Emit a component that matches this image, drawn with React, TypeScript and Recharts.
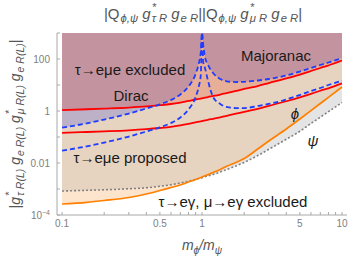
import React from 'react';
import { ComposedChart, Area, Line, XAxis, YAxis } from 'recharts';

// m_phi / m_psi sample points
const massRatio = [0.1, 0.15, 0.2, 0.3, 0.4, 0.5, 0.6, 0.7, 0.8, 0.9, 0.95, 0.98, 1, 1.02, 1.05, 1.1, 1.2, 1.35, 1.5, 1.75, 2, 2.5, 3, 4, 5, 6, 7, 8, 10];

// tau -> e mu e, Dirac (red solid)
const diracNow = [1.09, 1.17, 1.24, 1.36, 1.5, 1.67, 1.86, 2.12, 2.43, 2.77, 2.92, 3.0, 3.08, 3.15, 3.25, 3.45, 3.78, 4.31, 4.92, 5.88, 7.02, 9.15, 11.9, 17.8, 25.3, 34.5, 45.1, 56.2, 87.5];
const diracProposed = [0.145, 0.156, 0.165, 0.181, 0.2, 0.222, 0.247, 0.282, 0.323, 0.368, 0.389, 0.4, 0.41, 0.419, 0.432, 0.459, 0.503, 0.573, 0.654, 0.79, 0.934, 1.22, 1.58, 2.37, 3.37, 4.59, 6.0, 7.47, 11.6];

// tau -> e mu e, Majorana (blue dashed), diverges at m_phi = m_psi
const majoranaNow = [0.228, 0.336, 0.467, 0.794, 1.25, 1.81, 2.65, 4.31, 8.75, 26.5, 70, 186, 1000, 346, 119, 61.4, 28.9, 17.0, 13.9, 13.0, 13.3, 14.9, 17.0, 23.2, 33.0, 45.1, 58.8, 73.3, 109];
const majoranaProposed = [0.0297, 0.0439, 0.061, 0.1036, 0.163, 0.236, 0.345, 0.562, 1.14, 3.45, 9.15, 24.2, 1000, 76.7, 45.1, 15.6, 3.45, 1.86, 1.43, 1.3, 1.3, 1.56, 1.86, 2.77, 4.13, 5.88, 7.67, 10, 14.6];

// radiative decays (orange = phi, grey dotted = psi)
const phiBound = [2.65e-4, 3.08e-4, 3.61e-4, 4.71e-4, 6.43e-4, 8.75e-4, 1.14e-3, 1.43e-3, 1.86e-3, 2.32e-3, 2.6e-3, 2.77e-3, 2.9e-3, 3.03e-3, 3.22e-3, 3.55e-3, 4.31e-3, 5.62e-3, 7.53e-3, 1.05e-2, 1.49e-2, 3.45e-2, 7.02e-2, 0.203, 0.492, 1.03, 1.94, 3.36, 8.38];
const psiBound = [8.37e-4, 8.9e-4, 9.31e-4, 1.02e-3, 1.11e-3, 1.27e-3, 1.46e-3, 1.7e-3, 1.98e-3, 2.32e-3, 2.51e-3, 2.65e-3, 2.72e-3, 2.82e-3, 2.94e-3, 3.16e-3, 3.61e-3, 4.51e-3, 5.62e-3, 7.67e-3, 1.05e-2, 1.93e-2, 3.37e-2, 8.16e-2, 0.166, 0.331, 0.578, 0.94, 2.12];

const xTicks = [0.1, 0.2, 0.3, 0.4, 0.5, 0.6, 0.7, 0.8, 0.9, 1, 2, 3, 4, 5, 6, 7, 8, 9, 10];
const xTickLabels = [0.1, 0.5, 1, 5, 10];
const yTicks = [1e-4, 1e-3, 1e-2, 0.1, 1, 10, 100, 1000];

const TOP = 1000;
const font = "'Liberation Sans', Arial, Helvetica, sans-serif";
const frame = '#a8a8a8';

const rows = massRatio.map((x, i) => {
  const dn = diracNow[i];
  const mn = majoranaNow[i];
  const phi = phiBound[i];
  const psi = psiBound[i];
  return {
    x,
    diracNow: dn,
    diracProposed: diracProposed[i],
    majoranaNow: mn,
    majoranaProposed: majoranaProposed[i],
    phi,
    psi,
    phiBand: [phi, TOP],
    psiBand: [psi, TOP],
    bothBand: [Math.max(phi, psi), TOP],
    majBand: [Math.min(mn, TOP), TOP],
    dirBand: [Math.min(dn, TOP), TOP],
    exclBand: [Math.min(Math.max(dn, mn), TOP), TOP],
  };
});

const YTick = (props: any) => {
  const { x, y, payload } = props;
  const v = payload.value;
  const common = { fill: '#808080', fontSize: 10, fontFamily: font, textAnchor: 'end' as const };
  if (v === 1e-4) {
    return (
      <text x={x} y={y} dy="0.35em" {...common}>
        <tspan>10</tspan>
        <tspan dy={-4} fontSize={7}>−4</tspan>
      </text>
    );
  }
  const labels: Record<string, string> = { '0.01': '0.01', '1': '1', '100': '100' };
  const s = labels[String(v)];
  if (!s) return null;
  return (
    <text x={x} y={y} dy="0.35em" {...common}>
      {s}
    </text>
  );
};

// g with stacked superscript / subscript
const Gs = ({ base = 'g', sup, sub, italic = true }: { base?: string; sup?: string; sub: string; italic?: boolean }) => (
  <span>
    <span style={{ fontStyle: italic ? 'italic' : 'normal' }}>{base}</span>
    <span style={{ display: 'inline-block', verticalAlign: '-0.3em', fontSize: '0.75em', lineHeight: 1, marginLeft: 1 }}>
      <span style={{ display: 'block', fontStyle: 'italic' }}>{sup || '\u00a0'}</span>
      <span style={{ display: 'block', fontStyle: 'italic' }}>{sub}</span>
    </span>
  </span>
);

const Note = ({ cx, cy, size = 15, italic = false, children }: any) => (
  <div
    style={{
      position: 'absolute',
      left: cx,
      top: cy,
      transform: 'translate(-50%, -50%)',
      whiteSpace: 'nowrap',
      fontFamily: font,
      fontSize: size,
      fontStyle: italic ? 'italic' : 'normal',
      color: '#1a1a1a',
      lineHeight: 1,
      pointerEvents: 'none',
    }}
  >
    {children}
  </div>
);

export default function App() {
  return (
    <div style={{ position: 'absolute', left: 0, top: 0, width: 354, height: 262, background: '#fff' }}>
      <ComposedChart width={354} height={262} data={rows} margin={{ top: 33, right: 7, bottom: 17, left: 0 }}>
        <XAxis
          dataKey="x"
          type="number"
          scale="log"
          domain={[0.092, 10.86]}
          allowDataOverflow
          ticks={xTicks}
          interval={0}
          tickFormatter={(v: number) => (xTickLabels.includes(v) ? String(v) : '')}
          tickSize={-3}
          tickMargin={8}
          height={30}
          axisLine={{ stroke: frame }}
          tickLine={{ stroke: frame }}
          tick={{ fill: '#808080', fontSize: 10, fontFamily: font }}
        />
        <XAxis
          xAxisId="top"
          orientation="top"
          type="number"
          scale="log"
          domain={[0.092, 10.86]}
          allowDataOverflow
          ticks={xTicks}
          interval={0}
          tickFormatter={() => ''}
          tickSize={-3}
          height={0}
          axisLine={{ stroke: frame }}
          tickLine={{ stroke: frame }}
        />
        <YAxis
          type="number"
          scale="log"
          domain={[1e-4, 1000]}
          allowDataOverflow
          ticks={yTicks}
          interval={0}
          tick={<YTick />}
          tickSize={-3}
          tickMargin={10}
          width={57}
          axisLine={{ stroke: frame }}
          tickLine={{ stroke: frame }}
        />
        <YAxis
          yAxisId="right"
          orientation="right"
          type="number"
          scale="log"
          domain={[1e-4, 1000]}
          allowDataOverflow
          ticks={yTicks}
          interval={0}
          tickFormatter={() => ''}
          tickSize={-3}
          width={0}
          axisLine={{ stroke: frame }}
          tickLine={{ stroke: frame }}
        />

        <Area dataKey="phiBand" type="monotone" fill="#fde4cc" fillOpacity={1} stroke="none" isAnimationActive={false} />
        <Area dataKey="psiBand" type="monotone" fill="#e4e4e4" fillOpacity={1} stroke="none" isAnimationActive={false} />
        <Area dataKey="bothBand" type="monotone" fill="#e6d3c0" fillOpacity={1} stroke="none" isAnimationActive={false} />
        <Area dataKey="majBand" type="monotone" fill="#bdb1c8" fillOpacity={1} stroke="none" isAnimationActive={false} />
        <Area dataKey="dirBand" type="monotone" fill="#e8af98" fillOpacity={1} stroke="none" isAnimationActive={false} />
        <Area dataKey="exclBand" type="monotone" fill="#c493a0" fillOpacity={1} stroke="none" isAnimationActive={false} />

        <Line dataKey="psi" type="monotone" stroke="#808080" strokeWidth={1.6} strokeDasharray="2 2" dot={false} isAnimationActive={false} />
        <Line dataKey="phi" type="monotone" stroke="#ff8000" strokeWidth={1.7} dot={false} isAnimationActive={false} />
        <Line dataKey="diracNow" type="monotone" stroke="#ff0000" strokeWidth={1.8} dot={false} isAnimationActive={false} />
        <Line dataKey="diracProposed" type="monotone" stroke="#ff0000" strokeWidth={1.8} dot={false} isAnimationActive={false} />
        <Line dataKey="majoranaNow" type="monotone" stroke="#1f3cff" strokeWidth={1.8} strokeDasharray="5 3" dot={false} isAnimationActive={false} />
        <Line dataKey="majoranaProposed" type="monotone" stroke="#1f3cff" strokeWidth={1.8} strokeDasharray="5 3" dot={false} isAnimationActive={false} />
      </ComposedChart>

      {/* title */}
      <div
        style={{
          position: 'absolute',
          left: 203,
          top: 13,
          transform: 'translate(-50%, -50%)',
          whiteSpace: 'nowrap',
          fontFamily: font,
          fontSize: 15,
          color: '#555',
          lineHeight: 1,
        }}
      >
        |<Gs base="Q" sub="ϕ,ψ" italic={false} /> <Gs sup="*" sub="τ R" /> <Gs sub="e R" />||
        <Gs base="Q" sub="ϕ,ψ" italic={false} /> <Gs sup="*" sub="μ R" /> <Gs sub="e R" />|
      </div>

      {/* y label */}
      <div
        style={{
          position: 'absolute',
          left: 14,
          top: 124,
          transform: 'translate(-50%, -50%) rotate(-90deg)',
          whiteSpace: 'nowrap',
          fontFamily: font,
          fontSize: 14,
          color: '#555',
          lineHeight: 1,
        }}
      >
        |<Gs sup="*" sub="τ R(L)" /> <Gs sub="e R(L)" /> <Gs sup="*" sub="μ R(L)" /> <Gs sub="e R(L)" />|
      </div>

      {/* x label */}
      <div
        style={{
          position: 'absolute',
          left: 202,
          top: 247,
          transform: 'translate(-50%, -50%)',
          whiteSpace: 'nowrap',
          fontFamily: font,
          fontSize: 14,
          color: '#555',
          fontStyle: 'italic',
          lineHeight: 1,
        }}
      >
        m<sub style={{ fontSize: '0.72em' }}>ϕ</sub>/m<sub style={{ fontSize: '0.72em' }}>ψ</sub>
      </div>

      <Note cx={130} cy={69}>τ→eμe excluded</Note>
      <Note cx={131} cy={95}>Dirac</Note>
      <Note cx={276} cy={55}>Majoranac</Note>
      <Note cx={130} cy={157}>τ→eμe proposed</Note>
      <Note cx={295} cy={113} italic>ϕ</Note>
      <Note cx={313} cy={140} italic>ψ</Note>
      <Note cx={233} cy={201}>τ→eγ, μ→eγ excluded</Note>
    </div>
  );
}
